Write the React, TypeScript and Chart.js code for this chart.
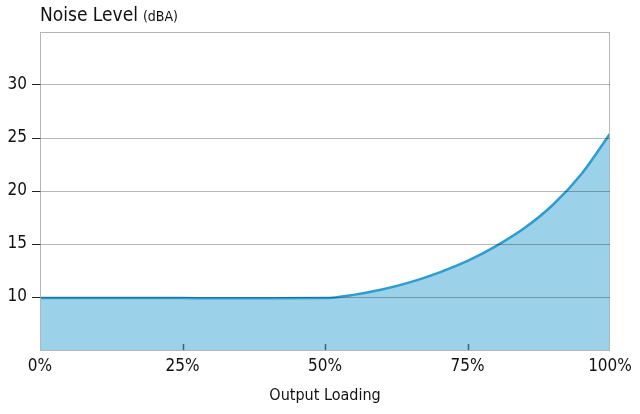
import React, { useEffect, useRef } from "react";
import { Chart, registerables } from "chart.js";

Chart.register(...registerables);

const loadingPct = [0, 10, 20, 25, 30, 40, 50, 55, 60, 65, 70, 75, 80, 85, 90, 95, 100];
const noiseDbA = [9.9, 9.9, 9.9, 9.9, 9.88, 9.88, 9.9, 10.2, 10.7, 11.4, 12.3, 13.4, 14.8, 16.5, 18.7, 21.6, 25.4];
const xTickValues = [0, 25, 50, 75, 100];
const innerTickValues = [25, 50, 75];
const yTickValues = [10, 15, 20, 25, 30];

const FONT = "'Liberation Sans Narrow', 'DejaVu Sans Condensed', sans-serif";

const framePlugin = {
  id: "frame",
  afterDatasetsDraw(chart: any) {
    const { ctx, chartArea, scales } = chart;
    ctx.save();
    ctx.strokeStyle = "#b5b5b5";
    ctx.lineWidth = 1;
    ctx.strokeRect(chartArea.left + 0.5, chartArea.top + 0.5, chartArea.right - chartArea.left - 1, chartArea.bottom - chartArea.top);
    ctx.strokeStyle = "#2d6580";
    ctx.lineWidth = 1.5;
    innerTickValues.forEach((v) => {
      const x = Math.round(scales.x.getPixelForValue(v)) + 0.5;
      ctx.beginPath();
      ctx.moveTo(x, chartArea.bottom);
      ctx.lineTo(x, chartArea.bottom - 6);
      ctx.stroke();
    });
    ctx.restore();
  },
  afterDraw(chart: any) {
    const { ctx, chartArea } = chart;
    ctx.save();
    ctx.fillStyle = "#111";
    ctx.textBaseline = "alphabetic";
    ctx.textAlign = "left";
    ctx.font = `19px ${FONT}`;
    const t = "Noise Level";
    ctx.fillText(t, chartArea.left, 21);
    const w = ctx.measureText(t).width;
    ctx.font = `14px ${FONT}`;
    ctx.fillText("(dBA)", chartArea.left + w + 5, 21);
    ctx.restore();
  },
};

export default function App() {
  const ref = useRef<HTMLCanvasElement>(null);
  useEffect(() => {
    const chart = new Chart(ref.current!, {
      type: "line",
      data: {
        labels: loadingPct,
        datasets: [
          {
            data: loadingPct.map((x, i) => ({ x, y: noiseDbA[i] })),
            borderColor: "#2f9cd0",
            borderWidth: 2.5,
            backgroundColor: "#9bd2ea",
            fill: "start",
            pointRadius: 0,
            cubicInterpolationMode: "monotone",
          },
        ],
      },
      options: {
        animation: false,
        responsive: false,
        layout: { padding: { top: 32, right: 30, left: 0, bottom: 0 } },
        plugins: { legend: { display: false }, tooltip: { enabled: false } },
        scales: {
          x: {
            type: "linear",
            min: 0,
            max: 100,
            afterBuildTicks: (s: any) => {
              s.ticks = xTickValues.map((v) => ({ value: v }));
            },
            afterFit: (s: any) => {
              s.height = 64;
            },
            grid: { display: false, drawTicks: false },
            border: { display: false },
            ticks: {
              color: "#111",
              padding: 6,
              maxRotation: 0,
              font: { family: FONT, size: 17 },
              callback: (v: any) => v + "%",
            },
            title: {
              display: true,
              text: "Output Loading",
              color: "#111",
              font: { family: FONT, size: 16 },
              padding: { top: 4, bottom: 9 },
            },
          },
          y: {
            min: 5,
            max: 35,
            afterBuildTicks: (s: any) => {
              s.ticks = yTickValues.map((v) => ({ value: v }));
            },
            afterFit: (s: any) => {
              s.width = 40;
            },
            grid: {
              z: 1,
              color: "rgba(0,0,0,0.28)",
              tickColor: "#222",
              tickLength: 8,
              lineWidth: 1,
            },
            border: { display: false },
            ticks: {
              color: "#111",
              padding: 5,
              font: { family: FONT, size: 17 },
            },
          },
        },
      },
      plugins: [framePlugin],
    } as any);
    return () => chart.destroy();
  }, []);
  return (
    <div style={{ position: "fixed", left: 0, top: 0, width: 640, height: 414, background: "#fff" }}>
      <canvas ref={ref} width={640} height={414} style={{ width: 640, height: 414, display: "block" }} />
    </div>
  );
}
